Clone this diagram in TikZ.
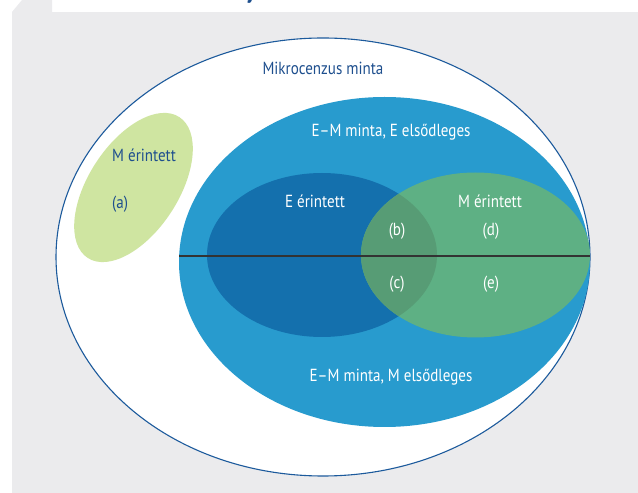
\documentclass[tikz,border=0pt]{standalone}
\usepackage{fontspec}
\setmainfont[FakeStretch=0.86]{PT Sans}
\usetikzlibrary{shapes.geometric}

\definecolor{panelgray}{HTML}{EBEBED}
\definecolor{rimblue}{HTML}{1C5A9C}
\definecolor{sampleblue}{HTML}{289BCE}
\definecolor{eblue}{HTML}{1470AD}
\definecolor{mgreen}{HTML}{5EB084}
\definecolor{lensgreen}{HTML}{579C75}
\definecolor{palegreen}{HTML}{CFE5A1}
\definecolor{inkblue}{HTML}{1E4F8E}

\begin{document}
\begin{tikzpicture}[
      x=1pt, y=1pt,
      every node/.style={font=\fontsize{17.5}{21}\selectfont},
      blob/.style={ellipse, inner sep=0pt, outer sep=0pt},
      lbl/.style={text=white, inner sep=0pt},
      dlbl/.style={text=inkblue, inner sep=0pt}
    ]
    \useasboundingbox (0,0) rectangle (638,493);
    \fill[panelgray] (12,0) rectangle (638,481);
    \fill[panelgray] (12,481) -- (22,493) -- (52,493) -- (52,481) -- cycle;
    \begin{scope}
      \clip (52,481) rectangle (638,493);
      \node[text=inkblue, inner sep=0pt, anchor=base,
            font=\bfseries\fontsize{24}{28}\selectfont] (titletail) at (251,494) {y};
    \end{scope}

    \node[blob, fill=white, draw=rimblue, line width=1.1pt,
          minimum width=534, minimum height=438] (census) at (323,236) {};
    \node[blob, fill=palegreen, minimum width=168, minimum height=90,
          rotate=57] (mpale) at (133.5,305.5) {};
    \node[blob, fill=sampleblue, minimum width=411, minimum height=330] (emsample) at (384.5,231) {};
    \node[blob, fill=eblue, minimum width=230, minimum height=164] (etouched) at (322,238) {};
    \node[blob, fill=mgreen, minimum width=229, minimum height=165] (mtouched) at (475.5,238) {};
    \begin{scope}
      \clip (322,238) ellipse [x radius=115, y radius=82];
      \fill[lensgreen] (475.5,238) ellipse [x radius=114.5, y radius=82.5];
    \end{scope}

    \coordinate (cutw) at (179,237);
    \coordinate (cute) at (590,237);
    \draw[line width=1.2pt, black!80] (cutw) -- (cute);

    \node[dlbl] (censuslbl) at (323,425) {Mikrocenzus minta};
    \node[dlbl, anchor=west] (mpalelbl) at (112,338) {M érintett};
    \node[dlbl, anchor=west] (acell) at (112,289) {(a)};
    \node[lbl] (eprim) at (391,361) {E–M minta, E elsődleges};
    \node[lbl] (elbl) at (315,292) {E érintett};
    \node[lbl] (mlbl) at (490,292) {M érintett};
    \node[lbl] (bcell) at (397,262) {(b)};
    \node[lbl] (dcell) at (491,262) {(d)};
    \node[lbl] (ccell) at (397,209) {(c)};
    \node[lbl] (ecell) at (491,209) {(e)};
    \node[lbl] (mprim) at (391,116) {E–M minta, M elsődleges};
  \end{tikzpicture}
\end{document}
